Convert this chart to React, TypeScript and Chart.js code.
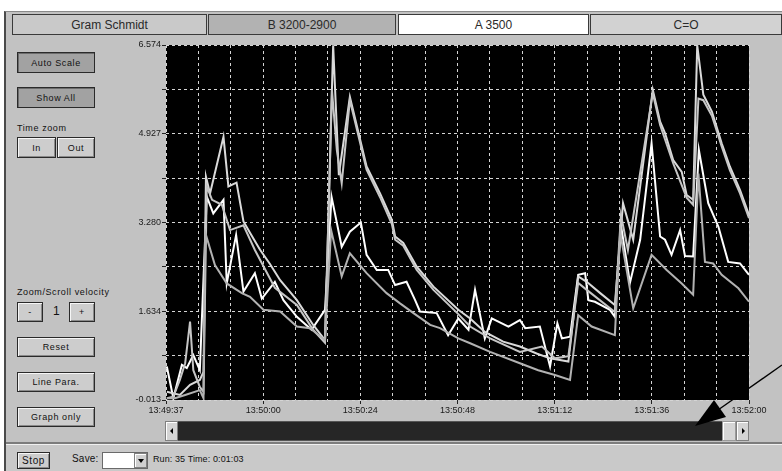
import React, { useEffect, useRef } from "react";
import { Chart, registerables } from "chart.js";
Chart.register(...registerables);

// x is seconds after 13:49:37
const xMin = 0;
const xMax = 143;
const xTickLabels = ["13:49:37", "13:50:00", "13:50:24", "13:50:48", "13:51:12", "13:51:36", "13:52:00"];
const yMin = -0.013;
const yMax = 6.574;
const yTickValues = [-0.013, 0.81, 1.634, 2.457, 3.28, 4.104, 4.927, 5.751, 6.574];
const yTickLabels = ["-0.013", "", "1.634", "", "3.280", "", "4.927", "", "6.574"];

const tabNames = ["Gram Schmidt", "B 3200-2900", "A 3500", "C=O"];

const gsTimes = [0.2, 3.4, 5.9, 8.3, 9.2, 9.8, 10.8, 14.1, 15.3, 17.3, 19.0, 20.6, 23.1, 25.5, 28.0, 32.1, 36.1, 39.0, 41.0, 42.4, 45.1, 49.2, 52.5, 55.4, 56.2, 58.2, 61.5, 65.6, 71.7, 74.6, 78.2, 82.7, 86.8, 90.9, 94.2, 98.7, 101.1, 103.2, 106.5, 110.1, 112.1, 114.6, 119.4, 121.2, 122.4, 124.4, 126.5, 127.7, 129.3, 130.3, 131.8, 133.9, 136.3, 138.3, 140.8, 143];
const gsValues = [0.14, 0.08, 0.27, 0.36, 0.51, 4.13, 3.82, 4.87, 3.95, 4.02, 3.30, 3.09, 2.77, 2.51, 2.21, 1.84, 1.38, 1.10, 6.57, 4.16, 5.61, 4.32, 3.82, 3.33, 3.02, 2.90, 2.46, 2.09, 1.66, 1.50, 1.25, 1.07, 0.98, 0.85, 0.76, 0.70, 2.28, 2.18, 1.97, 1.75, 3.64, 2.96, 5.74, 5.15, 4.94, 4.44, 4.22, 3.79, 3.70, 6.57, 5.65, 5.34, 4.75, 4.32, 3.88, 3.42];

const bTimes = [0.2, 1.8, 3.4, 4.7, 5.9, 6.7, 8.3, 9.2, 10.0, 11.3, 13.7, 15.7, 19.0, 21.8, 26.7, 32.1, 36.1, 39.0, 40.7, 41.9, 43.1, 45.1, 49.2, 52.5, 55.4, 56.2, 58.2, 61.5, 65.6, 71.7, 74.6, 79.5, 86.8, 92.2, 95.4, 98.7, 101.1, 103.2, 110.1, 111.6, 113.3, 119.4, 121.2, 124.4, 127.7, 129.3, 130.6, 131.8, 133.9, 136.3, 138.3, 140.8, 143];
const bValues = [0.02, 0.05, 0.36, 0.67, 1.44, 0.54, 0.23, 0.14, 3.95, 3.70, 3.61, 3.14, 3.23, 2.77, 2.07, 1.75, 1.29, 1.05, 5.74, 4.63, 4.01, 5.55, 4.26, 3.75, 3.25, 2.96, 2.85, 2.40, 2.03, 1.58, 1.35, 1.13, 0.88, 0.98, 0.76, 0.80, 2.16, 2.03, 1.62, 3.42, 2.77, 5.68, 5.09, 4.38, 3.74, 3.61, 5.58, 5.55, 5.26, 4.69, 4.25, 3.82, 3.36];

const aTimes = [0.2, 1.8, 3.9, 5.1, 6.7, 8.3, 10.0, 11.6, 14.1, 14.9, 17.2, 19.0, 21.8, 23.5, 26.7, 28.8, 32.1, 35.7, 39.0, 40.6, 43.1, 45.1, 47.8, 49.2, 51.7, 54.5, 56.2, 59.0, 61.1, 62.3, 66.4, 69.2, 71.7, 74.2, 75.8, 78.2, 79.9, 84.0, 86.8, 88.1, 91.7, 94.2, 96.0, 97.1, 99.1, 101.1, 102.8, 103.6, 105.2, 108.9, 110.1, 111.6, 113.8, 116.3, 119.1, 121.2, 122.4, 124.0, 126.1, 127.3, 129.3, 130.7, 133.0, 135.5, 137.9, 140.8, 143];
const aValues = [0.61, 0.02, 0.64, 0.58, 0.82, 0.54, 3.76, 3.45, 3.70, 2.15, 3.05, 2.00, 2.34, 1.87, 2.18, 1.84, 1.53, 1.29, 1.66, 3.76, 2.83, 3.11, 3.28, 2.68, 2.40, 2.40, 2.12, 2.18, 1.84, 1.63, 1.60, 1.19, 1.50, 1.29, 2.03, 1.13, 1.50, 1.35, 1.47, 1.32, 1.35, 0.61, 1.41, 1.13, 1.16, 2.31, 2.34, 1.84, 1.81, 1.66, 1.53, 3.23, 2.16, 2.96, 4.75, 3.02, 2.96, 2.68, 3.14, 2.66, 2.65, 4.63, 3.64, 3.20, 2.55, 2.52, 2.31];

const coTimes = [0.2, 2.2, 4.7, 8.3, 9.2, 9.6, 12.0, 14.9, 18.6, 20.6, 23.9, 28.0, 32.1, 35.3, 39.0, 40.5, 43.1, 45.1, 49.2, 54.1, 57.4, 60.7, 64.8, 67.2, 71.7, 74.6, 79.5, 86.8, 91.3, 95.4, 99.1, 101.1, 104.4, 110.1, 111.4, 114.6, 119.1, 122.8, 126.5, 129.3, 130.6, 132.2, 134.2, 136.3, 140.4, 143];
const coValues = [0.02, 0.02, 0.08, 0.17, 0.02, 3.10, 2.49, 2.15, 1.97, 1.90, 1.66, 1.63, 1.35, 1.32, 1.10, 3.14, 2.28, 2.71, 2.34, 1.97, 1.78, 1.60, 1.38, 1.32, 1.13, 1.04, 0.88, 0.67, 0.54, 0.45, 0.36, 1.56, 1.35, 1.19, 3.10, 1.69, 2.68, 2.40, 2.15, 1.94, 4.19, 2.55, 2.52, 2.31, 2.06, 1.81];

const UI_FONT = '"Liberation Sans", Arial, sans-serif';

const toPoints = (ts: number[], vs: number[]) => ts.map((t, i) => ({ x: t, y: vs[i] }));

const blackArea = {
  id: "blackArea",
  beforeDraw(chart: any) {
    const { ctx, chartArea } = chart;
    ctx.save();
    ctx.fillStyle = "#000000";
    ctx.fillRect(chartArea.left, chartArea.top, chartArea.right - chartArea.left, chartArea.bottom - chartArea.top);
    ctx.restore();
  },
};

function Btn(props: { x: number; y: number; w: number; h: number; label: string; dark?: boolean; size?: number }) {
  const { x, y, w, h, label, dark, size } = props;
  return (
    <div
      style={{
        position: "absolute",
        left: x,
        top: y,
        width: w,
        height: h,
        boxSizing: "border-box",
        background: dark ? "#a2a2a2" : "#cdcdcd",
        border: "1px solid #2a2a2a",
        boxShadow: dark ? "inset 1px 1px 0 #6c6c6c" : "inset 1px 1px 0 #f6f6f6, inset -1px -1px 0 #8a8a8a",
        display: "flex",
        alignItems: "center",
        justifyContent: "center",
        font: `${size || 9}px ${UI_FONT}`,
        letterSpacing: "0.6px",
        color: "#111",
      }}
    >
      {label}
    </div>
  );
}

function Txt(props: { x: number; y: number; text: string; size?: number; ls?: number }) {
  return (
    <div
      style={{
        position: "absolute",
        left: props.x,
        top: props.y,
        font: `${props.size || 9}px ${UI_FONT}`,
        letterSpacing: `${props.ls ?? 0.6}px`,
        color: "#111",
        whiteSpace: "nowrap",
      }}
    >
      {props.text}
    </div>
  );
}

export default function App() {
  const ref = useRef<HTMLCanvasElement>(null);

  useEffect(() => {
    document.body.style.margin = "0";
    const canvas = ref.current!;
    const xTickValues = xTickLabels.flatMap((_, i) =>
      i < xTickLabels.length - 1 ? [0, 1, 2].map((k) => xMin + ((i * 3 + k) * (xMax - xMin)) / 18) : [xMax]
    );
    const mk = (label: string, ts: number[], vs: number[], color: string) => ({
      label,
      data: toPoints(ts, vs),
      borderColor: color,
      backgroundColor: color,
      borderWidth: 2,
      pointRadius: 0,
      tension: 0,
      fill: false,
    });
    const chart = new Chart(canvas, {
      type: "line",
      data: {
        datasets: [
          mk(tabNames[3], coTimes, coValues, "#b2b2b2"),
          mk(tabNames[1], bTimes, bValues, "#c6c6c6"),
          mk(tabNames[0], gsTimes, gsValues, "#dadada"),
          mk(tabNames[2], aTimes, aValues, "#ffffff"),
        ],
      },
      options: {
        animation: false,
        responsive: false,
        devicePixelRatio: 1,
        events: [],
        layout: { padding: { left: 0, top: 9, right: 27, bottom: 0 } },
        plugins: { legend: { display: false }, tooltip: { enabled: false }, title: { display: false } },
        scales: {
          x: {
            type: "linear",
            min: xMin,
            max: xMax,
            border: { display: false, dash: [3, 3] },
            afterBuildTicks: (s: any) => {
              s.ticks = xTickValues.map((v) => ({ value: v }));
            },
            afterFit: (s: any) => {
              s.height = 20;
              s.paddingLeft = 0;
              s.paddingRight = 0;
            },
            ticks: {
              autoSkip: false,
              maxRotation: 0,
              padding: 1,
              color: "#1a1a1a",
              font: { family: UI_FONT, size: 9 },
              callback: (_v: any, i: number) => (i % 3 === 0 ? xTickLabels[i / 3] : ""),
            },
            grid: {
              color: "#d4d4d4",
              lineWidth: 1,
              tickLength: 4,
              tickColor: (c: any) => (c.index % 3 === 0 ? "#222222" : "rgba(0,0,0,0)"),
              tickBorderDash: [],
            } as any,
          },
          y: {
            type: "linear",
            min: yMin,
            max: yMax,
            border: { display: false, dash: [3, 3] },
            afterBuildTicks: (s: any) => {
              s.ticks = yTickValues.map((v) => ({ value: v }));
            },
            afterFit: (s: any) => {
              s.width = 50;
              s.paddingTop = 0;
              s.paddingBottom = 0;
            },
            ticks: {
              autoSkip: false,
              padding: 1,
              color: "#1a1a1a",
              font: { family: UI_FONT, size: 9 },
              callback: (_v: any, i: number) => yTickLabels[i],
            },
            grid: {
              color: "#d4d4d4",
              lineWidth: 1,
              tickLength: 4,
              tickColor: "#222222",
              tickBorderDash: [],
            } as any,
          },
        },
      },
      plugins: [blackArea],
    } as any);
    return () => chart.destroy();
  }, []);

  return (
    <div style={{ position: "absolute", left: 0, top: 0, width: 782, height: 471, background: "#ffffff", overflow: "hidden" }}>
      {/* main frame */}
      <div
        style={{
          position: "absolute",
          left: 4,
          top: 11,
          width: 778,
          height: 460,
          background: "#c2c2c2",
          borderLeft: "2px solid #4a4a4a",
          borderTop: "1px solid #8a8a8a",
          boxSizing: "border-box",
        }}
      />
      {/* tabs */}
      {[
        { x: 12, w: 195, bg: "#c9c9c9" },
        { x: 208, w: 188, bg: "#b2b2b2" },
        { x: 398, w: 191, bg: "#ffffff" },
        { x: 590, w: 192, bg: "#d2d2d2" },
      ].map((t, i) => (
        <div
          key={i}
          style={{
            position: "absolute",
            left: t.x,
            top: 14,
            width: t.w,
            height: 21,
            boxSizing: "border-box",
            background: t.bg,
            border: "1px solid #3a3a3a",
            display: "flex",
            alignItems: "center",
            justifyContent: "center",
            font: `12px ${UI_FONT}`,
            color: "#2a2a2a",
          }}
        >
          {tabNames[i]}
        </div>
      ))}

      {/* left control panel */}
      <Btn x={17} y={52} w={78} h={21} label="Auto Scale" dark />
      <Btn x={17} y={87} w={78} h={21} label="Show All" dark />
      <Txt x={17} y={123} text="Time zoom" />
      <Btn x={17} y={137} w={39} h={21} label="In" />
      <Btn x={57} y={137} w={38} h={21} label="Out" />
      <Txt x={17} y={287} text="Zoom/Scroll velocity" />
      <Btn x={17} y={302} w={26} h={20} label="-" />
      <Txt x={53} y={304} text="1" size={12} ls={0} />
      <Btn x={69} y={302} w={26} h={20} label="+" />
      <Btn x={17} y={337} w={78} h={20} label="Reset" />
      <Btn x={17} y={372} w={78} h={20} label="Line Para." />
      <Btn x={17} y={407} w={78} h={20} label="Graph only" />

      {/* chart */}
      <canvas ref={ref} width={660} height={384} style={{ position: "absolute", left: 116, top: 36, width: 660, height: 384 }} />

      {/* scrollbar */}
      <div style={{ position: "absolute", left: 165, top: 421, width: 584, height: 20, background: "#262626", boxSizing: "border-box", border: "1px solid #555" }} />
      <div style={{ position: "absolute", left: 165, top: 421, width: 13, height: 20, background: "#d4d4d4", boxSizing: "border-box", border: "1px solid #808080", boxShadow: "inset 1px 1px 0 #fff" }}>
        <div style={{ position: "absolute", left: 4, top: 6, width: 0, height: 0, borderTop: "3px solid transparent", borderBottom: "3px solid transparent", borderRight: "3px solid #000" }} />
      </div>
      <div style={{ position: "absolute", left: 722, top: 421, width: 14, height: 20, background: "#d6d6d6", boxSizing: "border-box", border: "1px solid #9a9a9a", boxShadow: "inset 1px 1px 0 #fff" }} />
      <div style={{ position: "absolute", left: 736, top: 421, width: 13, height: 20, background: "#d4d4d4", boxSizing: "border-box", border: "1px solid #808080", boxShadow: "inset 1px 1px 0 #fff" }}>
        <div style={{ position: "absolute", left: 5, top: 6, width: 0, height: 0, borderTop: "3px solid transparent", borderBottom: "3px solid transparent", borderLeft: "3px solid #000" }} />
      </div>

      {/* status bar */}
      <div style={{ position: "absolute", left: 6, top: 442, width: 776, height: 2, background: "#7c7c7c" }} />
      <div style={{ position: "absolute", left: 6, top: 444, width: 776, height: 1, background: "#f0f0f0" }} />
      <div style={{ position: "absolute", left: 6, top: 445, width: 776, height: 26, background: "#c9c9c9" }} />
      <Btn x={17} y={452} w={33} h={17} label="Stop" size={10} />
      <Txt x={72} y={453} text="Save:" size={10} ls={0.2} />
      <div style={{ position: "absolute", left: 102, top: 452, width: 46, height: 17, background: "#ffffff", boxSizing: "border-box", border: "1px solid #6a6a6a" }} />
      <div style={{ position: "absolute", left: 134, top: 453, width: 13, height: 15, background: "#d0d0d0", boxSizing: "border-box", border: "1px solid #808080", boxShadow: "inset 1px 1px 0 #fff" }}>
        <div style={{ position: "absolute", left: 3, top: 5, width: 0, height: 0, borderLeft: "3px solid transparent", borderRight: "3px solid transparent", borderTop: "4px solid #000" }} />
      </div>
      <Txt x={153} y={454} text="Run: 35  Time:  0:01:03" size={9} ls={0.1} />

      {/* annotation arrow */}
      <svg width={782} height={471} style={{ position: "absolute", left: 0, top: 0, pointerEvents: "none" }}>
        <line x1={782} y1={365} x2={718} y2={410} stroke="#000" strokeWidth={1.4} />
        <polygon points="695,426 714,400 726,417" fill="#000" />
      </svg>
    </div>
  );
}
